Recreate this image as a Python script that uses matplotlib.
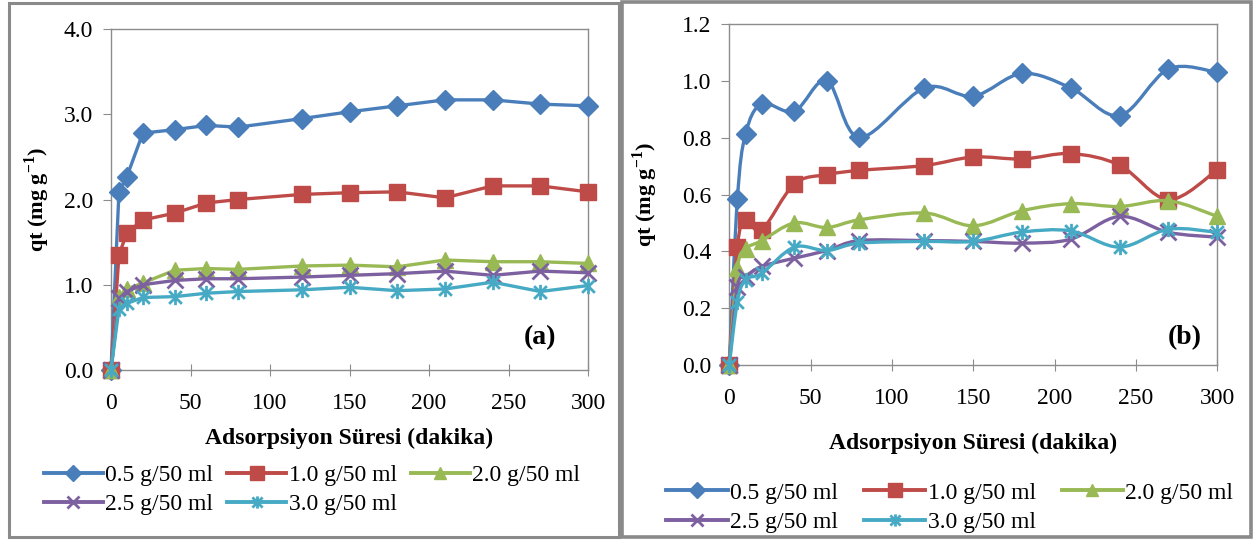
import numpy as np
import matplotlib
matplotlib.use("Agg")
import matplotlib.pyplot as plt
from matplotlib.path import Path
from matplotlib.patches import PathPatch, Rectangle
from matplotlib.lines import Line2D
from matplotlib.ticker import FormatStrFormatter, MultipleLocator

plt.rcParams['font.family'] = ['Liberation Serif', 'DejaVu Serif']
plt.rcParams['mathtext.fontset'] = 'custom'
plt.rcParams['mathtext.rm'] = 'Liberation Serif:bold'
plt.rcParams['mathtext.bf'] = 'Liberation Serif:bold'

# sampling times (min)
time = [0, 5, 10, 20, 40, 60, 80, 120, 150, 180, 210, 240, 270, 300]
labels = ['0.5 g/50 ml', '1.0 g/50 ml', '2.0 g/50 ml', '2.5 g/50 ml', '3.0 g/50 ml']

# panel (a)
qa_05 = [0, 2.09, 2.27, 2.78, 2.82, 2.87, 2.85, 2.95, 3.03, 3.10, 3.17, 3.17, 3.12, 3.10]
qa_10 = [0, 1.35, 1.61, 1.76, 1.84, 1.96, 2.00, 2.06, 2.08, 2.09, 2.02, 2.16, 2.16, 2.09]
qa_20 = [0, 0.86, 0.95, 1.02, 1.17, 1.19, 1.18, 1.22, 1.23, 1.21, 1.29, 1.27, 1.27, 1.25]
qa_25 = [0, 0.84, 0.92, 1.00, 1.05, 1.07, 1.07, 1.09, 1.11, 1.13, 1.16, 1.11, 1.16, 1.14]
qa_30 = [0, 0.72, 0.78, 0.85, 0.86, 0.90, 0.92, 0.94, 0.97, 0.93, 0.95, 1.03, 0.92, 0.99]

# panel (b)
qb_05 = [0, 0.584, 0.813, 0.919, 0.893, 1.001, 0.801, 0.975, 0.946, 1.026, 0.975, 0.878, 1.042, 1.030]
qb_10 = [0, 0.417, 0.511, 0.476, 0.637, 0.670, 0.685, 0.702, 0.732, 0.725, 0.744, 0.703, 0.582, 0.687]
qb_20 = [0, 0.340, 0.408, 0.438, 0.500, 0.484, 0.511, 0.535, 0.490, 0.543, 0.568, 0.558, 0.578, 0.523]
qb_25 = [0, 0.276, 0.311, 0.347, 0.376, 0.403, 0.438, 0.438, 0.435, 0.429, 0.443, 0.523, 0.467, 0.450]
qb_30 = [0, 0.223, 0.300, 0.323, 0.415, 0.403, 0.429, 0.435, 0.435, 0.468, 0.472, 0.415, 0.478, 0.467]

colors = ['#4A7EBB', '#BE4B48', '#98B954', '#7D60A0', '#46AAC5']
star = Path([(-1, -1), (1, 1), (-1, 1), (1, -1), (0, -1.2), (0, 1.2)],
            [Path.MOVETO, Path.LINETO] * 3)
markers = ['D', 's', '^', 'x', star]
msizes = [10, 12, 11, 11, 11]
fs = 17


def smooth_path(x, y):
    # Catmull-Rom style bezier through the data points (Excel "smoothed line")
    pts = np.column_stack([x, y]).astype(float)
    n = len(pts)
    verts = [pts[0]]
    codes = [Path.MOVETO]
    for i in range(n - 1):
        p0 = pts[i - 1] if i > 0 else pts[i]
        p1 = pts[i]
        p2 = pts[i + 1]
        p3 = pts[i + 2] if i + 2 < n else pts[i + 1]
        verts += [p1 + (p2 - p0) / 6, p2 - (p3 - p1) / 6, p2]
        codes += [Path.CURVE4] * 3
    return Path(verts, codes)


def style_axis(ax, ymax, ystep, xlabelpad, ylabelpad):
    ax.set_xlim(0, 300)
    ax.set_ylim(0, ymax)
    ax.xaxis.set_major_locator(MultipleLocator(50))
    ax.yaxis.set_major_locator(MultipleLocator(ystep))
    ax.yaxis.set_major_formatter(FormatStrFormatter('%.1f'))
    for s in ax.spines.values():
        s.set_color('#8C8C8C')
        s.set_linewidth(1.0)
    ax.tick_params(axis='x', direction='inout', length=9, color='#8C8C8C',
                   labelsize=fs, pad=12)
    ax.tick_params(axis='y', direction='out', length=6, color='#8C8C8C',
                   labelsize=fs, pad=7)
    ax.set_xlabel('Adsorpsiyon Süresi (dakika)', fontsize=fs, fontweight='bold', labelpad=xlabelpad)
    ax.set_ylabel(r'qt (mg g$^{-1}$)', fontsize=fs - 1, fontweight='bold', labelpad=ylabelpad)


fig = plt.figure(figsize=(12.53, 5.4), dpi=100)

# panel borders
fig.patches.append(Rectangle((9 / 1253, 3 / 540), 610 / 1253, 534 / 540, transform=fig.transFigure,
                             fill=False, edgecolor='#8A8A8A', linewidth=2.2))
fig.patches.append(Rectangle((622 / 1253, 3 / 540), 629 / 1253, 535 / 540, transform=fig.transFigure,
                             fill=False, edgecolor='#8A8A8A', linewidth=2.6))

ax1 = fig.add_axes([0.0886, 0.315, 0.3807, 0.631])
ax2 = fig.add_axes([0.582, 0.324, 0.3895, 0.6315])

series_a = [qa_05, qa_10, qa_20, qa_25, qa_30]
series_b = [qb_05, qb_10, qb_20, qb_25, qb_30]

handles = []
for q, c, m, ms, lab in zip(series_a, colors, markers, msizes, labels):
    ax1.plot(time, q, color=c, lw=2.4, marker=m, markersize=ms, mew=2 if m in ('x', star) else 1,
             mec=c, mfc=c, clip_on=False, zorder=3)
    handles.append(Line2D([], [], color=c, lw=2.8, marker=m, markersize=ms * 0.8,
                          mew=2 if m in ('x', star) else 1, mec=c, mfc=c, label=lab))

for q, c, m, ms in zip(series_b, colors, markers, msizes):
    ax2.add_patch(PathPatch(smooth_path(time, q), fill=False, edgecolor=c, lw=2.4,
                            transform=ax2.transData, clip_on=False, zorder=3))
    ax2.plot(time, q, linestyle='none', marker=m, markersize=ms, mew=2 if m in ('x', star) else 1,
             mec=c, mfc=c, clip_on=False, zorder=3)

style_axis(ax1, 4.0, 1.0, 10, 8)
style_axis(ax2, 1.2, 0.2, 17, 16)

ax1.text(0.90, 0.094, '(a)', transform=ax1.transAxes, fontsize=20, fontweight='bold',
         ha='center', va='center')
ax2.text(0.934, 0.079, '(b)', transform=ax2.transAxes, fontsize=20, fontweight='bold',
         ha='center', va='center')

# legend order so that rows read 0.5, 1.0, 2.0 / 2.5, 3.0
order = [0, 3, 1, 4, 2]
leg_kw = dict(ncol=3, loc='center', frameon=False, fontsize=fs,
              handletextpad=0.1, labelspacing=0.33, borderpad=0)
fig.legend([handles[i] for i in order], [labels[i] for i in order],
           bbox_to_anchor=(0.249, 0.0926), handlelength=2.5, columnspacing=0.6, **leg_kw)
fig.legend([handles[i] for i in order], [labels[i] for i in order],
           bbox_to_anchor=(0.758, 0.060), handlelength=2.6, columnspacing=1.1, **leg_kw)

fig.savefig('out.png', dpi=100)
